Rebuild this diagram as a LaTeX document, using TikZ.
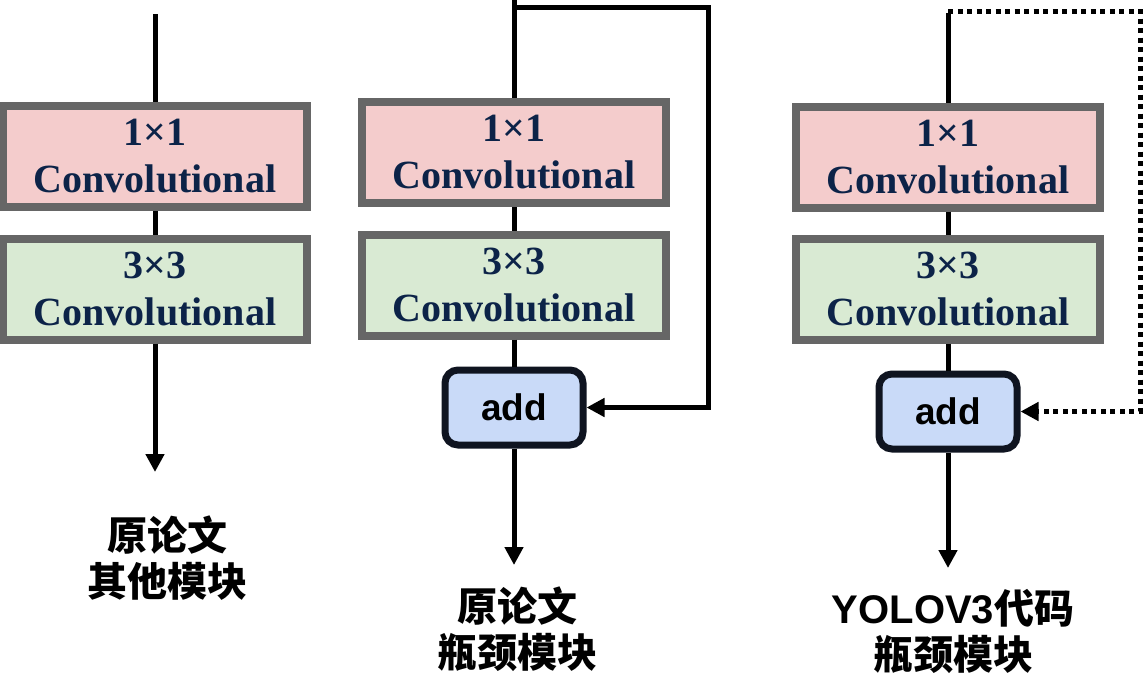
\documentclass[tikz,border=0pt]{standalone}
\usepackage{fontspec}
\setmainfont{Liberation Serif}
\setsansfont{Liberation Sans}
\newfontfamily\cjk{Noto Sans CJK SC}
\usetikzlibrary{arrows.meta}
\definecolor{pinkfill}{HTML}{F4CCCC}
\definecolor{greenfill}{HTML}{D9EAD3}
\definecolor{bluefill}{HTML}{C9DAF8}
\definecolor{boxgray}{HTML}{666666}
\definecolor{navy}{RGB}{12,35,72}
\definecolor{addborder}{RGB}{15,20,32}
\tikzset{
  convbox/.style={draw=boxgray, line width=8pt, minimum width=304pt, minimum height=101pt,
    inner sep=0pt, align=center, text=navy, font=\fontsize{40}{47}\selectfont\bfseries},
  convpink/.style={convbox, fill=pinkfill},
  convgreen/.style={convbox, fill=greenfill},
  addbox/.style={draw=addborder, line width=7pt, rounded corners=13pt, fill=bluefill,
    minimum width=138pt, minimum height=75pt, inner sep=0pt,
    font=\sffamily\bfseries\fontsize{37}{40}\selectfont},
  conn/.style={line width=5pt, black},
  arrowconn/.style={conn, -{Triangle[width=18pt,length=18pt]}},
  dotconn/.style={arrowconn, dash pattern=on 5pt off 4.5pt},
  caption/.style={align=center, font=\cjk\bfseries\fontsize{40}{46}\selectfont},
}
\begin{document}
\begin{tikzpicture}[x=1pt,y=-1pt]
\useasboundingbox (0,0) rectangle (1145,686);
% left column
\node[convpink] (l1) at (155,156.5) {1×1\\Convolutional};
\node[convgreen] (l2) at (155,289) {3×3\\Convolutional};
\coordinate (ltop) at (155,14);
\coordinate (lend) at (155,472);
\draw[conn] (ltop) -- (l1.north);
\draw[conn] (l1.south) -- (l2.north);
\draw[arrowconn] (l2.south) -- (lend);
\node[caption] (lcap) at (167,558) {原论文\\其他模块};
% middle column
\node[convpink] (m1) at (514,152.5) {1×1\\Convolutional};
\node[convgreen] (m2) at (514,285) {3×3\\Convolutional};
\node[addbox] (madd) at (514,407.5) {add};
\coordinate (mtop) at (514,0);
\coordinate (mt) at (514,7);
\coordinate (mr) at (708,7);
\coordinate (mend) at (514,565);
\draw[conn] (mtop) -- (m1.north);
\draw[conn] (m1.south) -- (m2.north);
\draw[conn] (m2.south) -- (madd.north);
\draw[arrowconn] (mt) -- (mr) |- (madd.east);
\draw[arrowconn] (madd.south) -- (mend);
\node[caption] (mcap) at (517,629.5) {原论文\\瓶颈模块};
% right column
\node[convpink] (r1) at (948,157) {1×1\\Convolutional};
\node[convgreen] (r2) at (948,289) {3×3\\Convolutional};
\node[addbox] (radd) at (948,411.5) {add};
\coordinate (rtop) at (948,13);
\coordinate (rt) at (948,11);
\coordinate (rr) at (1140,11);
\coordinate (rend) at (948,568);
\draw[conn] (rtop) -- (r1.north);
\draw[conn] (r1.south) -- (r2.north);
\draw[conn] (r2.south) -- (radd.north);
\draw[dotconn] (rt) -- (rr) |- (radd.east);
\draw[arrowconn] (radd.south) -- (rend);
\node[caption] (rcap) at (953,631.5) {{\sffamily\bfseries YOLOV3}代码\\瓶颈模块};
\end{tikzpicture}
\end{document}
